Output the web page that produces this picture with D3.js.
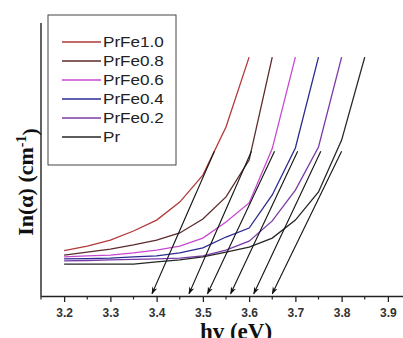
<!DOCTYPE html>
<html><head><meta charset="utf-8">
<script src="https://cdn.jsdelivr.net/npm/d3@7"></script>
<style>body{margin:0;background:#fff}svg{display:block}</style>
</head><body>
<svg id="c" width="403" height="338"></svg>
<script>
const energy = [3.2,3.25,3.3,3.35,3.4,3.45,3.5,3.55,3.6,3.65,3.7,3.75,3.8,3.85];
const seriesNames = ["PrFe1.0","PrFe0.8","PrFe0.6","PrFe0.4","PrFe0.2","Pr"];
const seriesColors = ["#b2393a","#5c2b2b","#c848cf","#2b2b93","#7a3aa8","#262626"];
const lnPrFe10 = [1.66,1.83,2.05,2.38,2.78,3.44,4.43,6.19,8.75];
const lnPrFe08 = [1.50,1.61,1.72,1.87,2.05,2.31,2.82,3.63,4.98,8.75];
const lnPrFe06 = [1.43,1.47,1.50,1.58,1.68,1.83,2.12,2.71,3.41,5.40,8.75];
const lnPrFe04 = [1.36,1.37,1.39,1.43,1.47,1.58,1.76,2.16,2.49,3.70,5.42,8.75];
const lnPrFe02 = [1.29,1.30,1.32,1.34,1.36,1.39,1.47,1.68,2.01,2.75,3.88,5.46,8.75];
const lnPr     = [1.17,1.17,1.17,1.17,1.25,1.32,1.43,1.61,1.79,2.12,2.78,3.81,5.71,8.75];
const bandGap  = [3.39,3.47,3.51,3.56,3.61,3.65];
const tangentTopE  = [3.525,3.605,3.655,3.705,3.755,3.80];
const tangentTopLn = [5.3,5.3,5.3,5.3,5.3,5.3];
const xTicks = [3.2,3.3,3.4,3.5,3.6,3.7,3.8,3.9];
const xMinor = [3.15,3.25,3.35,3.45,3.55,3.65,3.75,3.85,3.95];

const allSeries = [lnPrFe10,lnPrFe08,lnPrFe06,lnPrFe04,lnPrFe02,lnPr];
const svg = d3.select("#c");
const x = d3.scaleLinear().domain([3.15,3.95]).range([41,411]);
const y = d3.scaleLinear().domain([0,10]).range([296,23]);

// axes
svg.append("line").attr("x1",41).attr("x2",41).attr("y1",23).attr("y2",296.5)
  .attr("stroke","#222").attr("stroke-width",1.4);
const xa = svg.append("g").attr("transform","translate(0,296)")
  .call(d3.axisBottom(x).tickValues(xTicks).tickFormat(d3.format(".1f")).tickSize(6).tickSizeOuter(0));
xa.select(".domain").attr("stroke","#222").attr("stroke-width",1.4);
xa.selectAll(".tick line").attr("stroke","#222").attr("stroke-width",1.3);
xa.selectAll("text").attr("font-family","Liberation Sans, Arial, sans-serif")
  .attr("font-size","12px").attr("font-weight","bold").attr("fill","#333").attr("dy","1.0em");
svg.append("g").selectAll("line").data(xMinor).join("line")
  .attr("x1",d=>x(d)).attr("x2",d=>x(d)).attr("y1",296).attr("y2",299.5)
  .attr("stroke","#222").attr("stroke-width",1.2);

// curves
const line = d3.line().x((d,i)=>x(energy[i])).y(d=>y(d));
svg.append("g").selectAll("path").data(allSeries).join("path")
  .attr("d",d=>line(d)).attr("fill","none")
  .attr("stroke",(d,i)=>seriesColors[i]).attr("stroke-width",1.3);

// tangents with arrows
svg.append("defs").append("marker").attr("id","arr").attr("viewBox","0 0 10 10")
  .attr("refX",9).attr("refY",5).attr("markerWidth",7).attr("markerHeight",7)
  .attr("orient","auto").append("path").attr("d","M0,1.5 L10,5 L0,8.5 L3,5 Z").attr("fill","#111");
svg.append("g").selectAll("line").data(bandGap).join("line")
  .attr("x1",(d,i)=>x(tangentTopE[i])).attr("y1",(d,i)=>y(tangentTopLn[i]))
  .attr("x2",d=>x(d)).attr("y2",y(0.08))
  .attr("stroke","#111").attr("stroke-width",1.1).attr("marker-end","url(#arr)");

// legend
const lg = svg.append("g");
lg.append("rect").attr("x",48).attr("y",15).attr("width",128).attr("height",150)
  .attr("fill","#fff").attr("stroke","#444").attr("stroke-width",1);
seriesNames.forEach((n,i)=>{
  const yy = 42 + i*19;
  lg.append("line").attr("x1",62).attr("x2",101).attr("y1",yy).attr("y2",yy)
    .attr("stroke",seriesColors[i]).attr("stroke-width",1.4);
  lg.append("text").attr("transform",`translate(103,${yy+5}) scale(1.18,1)`).text(n)
    .attr("font-family","Liberation Sans, Arial, sans-serif").attr("font-size","14.5px").attr("fill","#222");
});

// titles
svg.append("text").attr("transform","translate(33,182) rotate(-90)")
  .attr("text-anchor","middle").attr("font-family","Liberation Serif, Times New Roman, serif")
  .attr("font-weight","bold").attr("font-size","22px").attr("fill","#111")
  .call(t=>{t.append("tspan").text("In(α) (cm");
    t.append("tspan").attr("dy","-0.5em").attr("font-size","14px").text("-1");
    t.append("tspan").attr("dy","0.5em").text(")");});
svg.append("text").attr("x",236).attr("y",339).attr("text-anchor","middle")
  .attr("font-family","Liberation Serif, Times New Roman, serif").attr("font-weight","bold")
  .attr("font-size","23px").attr("fill","#111").text("hv (eV)");
</script>
</body></html>
